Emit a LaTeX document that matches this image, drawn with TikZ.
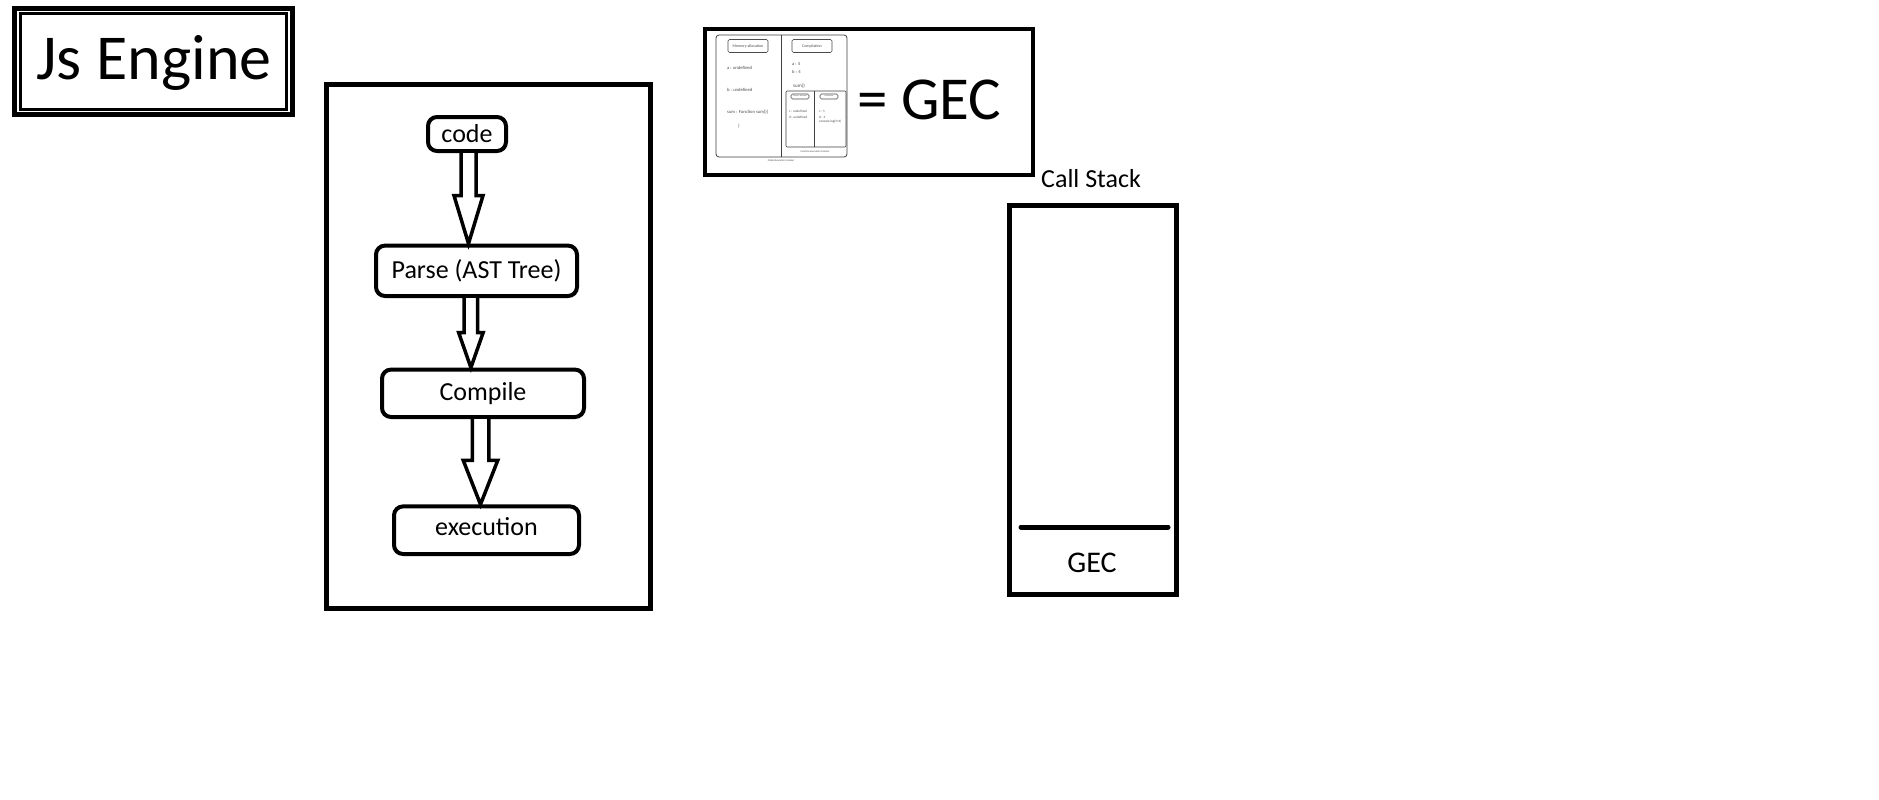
\documentclass[tikz,border=0pt]{standalone}
\usepackage{fontspec}
\setmainfont{Carlito}
\usetikzlibrary{calc}
\newcommand\hollowarrow[6]{%
  \draw[hollow] let \p1=($(#1)+(#3,0)$), \p2=(#2) in
    ({\x1-#4pt},\y1) -- ({\x1-#4pt},{\y2+#6pt}) -- ({\x1-#5pt},{\y2+#6pt}) -- (\x1,\y2)
    -- ({\x1+#5pt},{\y2+#6pt}) -- ({\x1+#4pt},{\y2+#6pt}) -- ({\x1+#4pt},\y1);}
\tikzset{
  flow/.style={draw, line width=4pt, rounded corners=9pt, fill=white, inner sep=0pt,
    font=\fontsize{26}{30}\selectfont},
  frame/.style={draw, line width=5pt, inner sep=0pt},
  hollow/.style={draw, line width=3.5pt, fill=white, line join=miter},
  thumb/.style={draw=black!75, line width=0.8pt},
  thumbbox/.style={draw=black!70, line width=0.6pt, rounded corners=1.5pt},
  tiny/.style={font=\fontsize{4.6}{5}\selectfont, text=black!70, inner sep=0pt, anchor=west},
  micro/.style={font=\fontsize{2.6}{3}\selectfont, text=black!70, inner sep=0pt},
  label26/.style={font=\fontsize{26}{30}\selectfont, inner sep=0pt},
}
\begin{document}
\begin{tikzpicture}[x=1pt,y=-1pt]
\useasboundingbox[fill=white] (0,0) rectangle (1879,800);

% title
\node[frame, minimum width=277.5pt, minimum height=106pt] (title) at (153.25,61.5) {};
\draw[line width=3pt] ($(title.north west)+(8,8)$) rectangle ($(title.south east)+(-8,-8)$);
\node[anchor=base, inner sep=0pt, font=\fontsize{64}{74}\selectfont] (titletext) at (154,79) {Js Engine};

% engine box
\node[frame, minimum width=324pt, minimum height=524pt] (engine) at (488,346) {};

\node[flow, minimum width=78pt, minimum height=34pt] (code) at (467,134) {code};
\node[flow, minimum width=201pt, minimum height=50.4pt] (parse) at (476.5,270.8) {Parse (AST Tree)};
\node[flow, minimum width=202pt, minimum height=47.4pt] (compile) at (483,393.3) {Compile};
\node[flow, minimum width=185pt, minimum height=47.6pt] (exec) at (486.5,530.2) {\raisebox{4pt}[\height][\depth]{execution}};

\hollowarrow{code.south}{parse.north}{1.5}{7.5}{14.5}{48}
\hollowarrow{parse.south}{compile.north}{-5.6}{6.75}{12.25}{35}
\hollowarrow{compile.south}{exec.north}{-2.5}{8.25}{17.25}{44}

% GEC thumbnail
\node[draw, line width=4pt, inner sep=0pt, minimum width=328pt, minimum height=146pt] (gecimg) at (869,102) {};
\draw[thumb, rounded corners=3pt] (716,35) rectangle (847,157);
\draw[thumb] (781,35) -- (781,157);
\node[thumbbox, minimum width=40pt, minimum height=13pt, inner sep=0pt, font=\fontsize{4}{5}\selectfont, text=black!70] (mem) at (748,46) {Memory allocation};
\node[thumbbox, minimum width=40pt, minimum height=13pt, inner sep=0pt, font=\fontsize{4}{5}\selectfont, text=black!70] (comp) at (812,46) {Compilation};
\node[tiny] (ta) at (727,68) {a : undefined};
\node[tiny] (tb) at (727,90) {b : undefined};
\node[tiny] (tsum) at (727,112) {sum : Function sum()\{};
\node[tiny] (tbrace) at (738,126) {\}};
\node[tiny] (ta5) at (792,64) {a : 5};
\node[tiny] (tb4) at (792,72) {b : 4};
\node[tiny, font=\fontsize{5}{6}\selectfont] (tsumcall) at (793,86) {sum()};
\draw[thumb, line width=0.6pt, rounded corners=1pt] (786,91) rectangle (846,147);
\draw[thumb, line width=0.6pt] (814,91) -- (814,147);
\node[thumbbox, minimum width=18pt, minimum height=5pt, micro, font=\fontsize{1.8}{2}\selectfont] (fmem) at (800,96.5) {Memory allocation};
\node[thumbbox, minimum width=18pt, minimum height=5pt, micro, font=\fontsize{1.8}{2}\selectfont] (fcomp) at (829,96.5) {Compilation};
\node[tiny, font=\fontsize{3.3}{4}\selectfont] (tc) at (789,111) {c : undefined};
\node[tiny, font=\fontsize{3.3}{4}\selectfont] (td) at (789,117) {d : undefined};
\node[tiny, font=\fontsize{3.3}{4}\selectfont] (tc5) at (819,111) {c : 5};
\node[tiny, font=\fontsize{3.3}{4}\selectfont] (td4) at (819,117) {d : 4};
\node[tiny, font=\fontsize{3.3}{4}\selectfont] (tlog) at (819,122) {console.log(5+4)};
\node[micro] (fec) at (815,152) {Function Execution Context};
\node[micro] (gecl) at (781,161) {Global Execution Context};
\node[anchor=base west, inner sep=0pt, font=\fontsize{61}{70}\selectfont] (eqgec) at (857,119) {= GEC};

% call stack
\node[label26, anchor=base west] (cslabel) at (1041,187) {Call Stack};
\node[frame, minimum width=167pt, minimum height=389pt] (stack) at (1093,400) {};
\draw[line width=5pt, line cap=round] (1021,527) -- (1168,527);
\node[font=\fontsize{30}{34}\selectfont, inner sep=0pt] (gecitem) at (1092,563) {GEC};
\end{tikzpicture}
\end{document}
